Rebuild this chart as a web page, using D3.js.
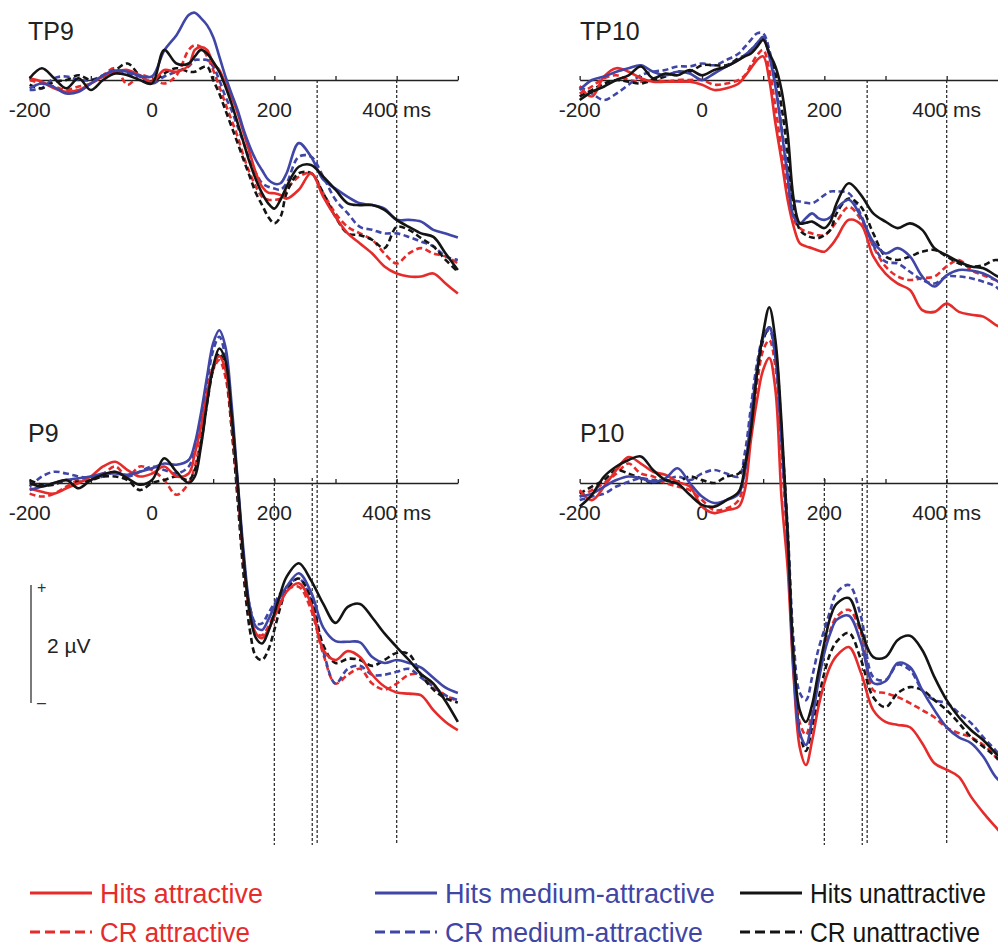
<!DOCTYPE html>
<html><head><meta charset="utf-8">
<script src="https://cdn.jsdelivr.net/npm/d3@7"></script>
<style>
body{margin:0;background:#fff}
svg{display:block}
text{font-family:"Liberation Sans",Arial,Helvetica,sans-serif}
</style>
</head><body>
<svg id="chart" width="998" height="949"></svg>
<script>
// ---- data (µV) ----
const times = [-200,-180,-160,-140,-120,-100,-80,-60,-40,-20,0,20,40,60,70,80,90,100,110,120,130,140,150,160,170,180,190,200,210,220,240,260,280,300,320,340,360,380,400,420,440,460,480,500];

const tp9HitsAttractive = [0.03,-0.03,-0.14,-0.20,-0.17,-0.06,0.06,0.14,0.17,0.08,-0.03,0.17,0.14,0.25,0.51,0.56,0.51,0.28,0.17,-0.06,-0.28,-0.56,-0.90,-1.24,-1.58,-1.81,-1.91,-1.92,-1.95,-2.01,-1.86,-1.58,-1.98,-2.32,-2.60,-2.77,-2.94,-3.16,-3.28,-3.33,-3.33,-3.28,-3.45,-3.62];
const tp9CrAttractive = [0,-0.06,-0.11,-0.17,-0.11,-0.06,0.08,0.20,-0.08,0.08,0.03,-0.06,0.08,0.51,0.59,0.56,0.40,0.17,-0.11,-0.40,-0.68,-0.96,-1.30,-1.58,-1.81,-1.98,-2.03,-2.03,-2.01,-1.86,-1.64,-1.58,-1.92,-2.26,-2.49,-2.60,-2.71,-2.94,-3.11,-2.94,-2.85,-2.94,-2.99,-3.11];
const tp9HitsMedium = [-0.14,-0.06,-0.12,-0.23,-0.20,-0.06,0.08,0.16,0.14,0.07,0.06,0.50,0.76,1.10,1.14,1.05,0.93,0.73,0.40,0.06,-0.23,-0.51,-0.85,-1.13,-1.36,-1.53,-1.69,-1.76,-1.75,-1.58,-1.07,-1.30,-1.69,-1.84,-1.98,-2.09,-2.12,-2.18,-2.37,-2.37,-2.40,-2.54,-2.60,-2.67];
const tp9CrMedium = [-0.17,-0.14,0.03,0.06,0,0,0.08,0.17,0.11,0.06,-0.06,0.06,0.14,0.23,0.34,0.34,0.34,0.23,0,-0.28,-0.51,-0.79,-1.07,-1.36,-1.58,-1.75,-1.81,-1.84,-1.86,-1.75,-1.30,-1.30,-1.64,-2.03,-2.26,-2.49,-2.54,-2.60,-2.60,-2.66,-2.74,-2.82,-2.99,-3.05];
const tp9HitsUnattractive = [0.03,0.20,0.03,-0.14,0.03,-0.17,0,0.11,0.08,0,-0.06,0.51,0.28,0.28,0.40,0.51,0.45,0.31,0.14,-0.11,-0.40,-0.73,-1.07,-1.41,-1.69,-1.92,-2.09,-2.18,-2.03,-1.81,-1.47,-1.44,-1.64,-1.86,-2.09,-2.12,-2.12,-2.20,-2.37,-2.49,-2.60,-2.66,-2.94,-3.22];
const tp9CrUnattractive = [-0.08,-0.14,-0.03,0,0.08,0,0.06,0.17,0.28,0.08,-0.03,0.11,0.20,0.14,0.14,0.20,0.23,0,-0.23,-0.51,-0.79,-1.07,-1.36,-1.64,-1.92,-2.12,-2.32,-2.43,-2.32,-1.92,-1.58,-1.58,-1.92,-2.32,-2.60,-2.63,-2.71,-2.85,-2.49,-2.54,-2.68,-2.82,-3.05,-3.25];

const tp10HitsAttractive = [-0.11,-0.28,0.06,0.20,0.14,0.03,-0.03,-0.03,-0.03,-0.03,-0.08,-0.17,-0.14,-0.06,0.06,0.20,0.34,0.40,0,-0.73,-1.36,-2.03,-2.49,-2.77,-2.82,-2.85,-2.89,-2.91,-2.82,-2.68,-2.37,-2.45,-2.99,-3.28,-3.45,-3.56,-3.90,-3.93,-3.79,-3.93,-3.98,-4.01,-4.15,-4.24];
const tp10CrAttractive = [-0.23,-0.11,0.03,0.08,0,-0.03,0,-0.03,0,0,0,-0.08,-0.06,0,0.08,0.25,0.42,0.51,0.17,-0.45,-1.19,-1.86,-2.37,-2.51,-2.57,-2.60,-2.63,-2.63,-2.54,-2.40,-2.15,-2.37,-2.82,-3.16,-3.33,-3.39,-3.36,-3.33,-3.16,-3.05,-3.22,-3.31,-3.39,-3.45];
const tp10HitsMedium = [-0.17,0,0.06,0.14,0.20,0.25,0.14,0.08,0.14,0.11,0,0.11,0.23,0.34,0.42,0.51,0.62,0.73,0.40,-0.11,-0.85,-1.64,-2.32,-2.43,-2.34,-2.26,-2.34,-2.37,-2.32,-2.18,-2.03,-2.32,-2.74,-2.94,-2.85,-2.99,-3.33,-3.50,-3.31,-3.22,-3.23,-3.28,-3.39,-3.56];
const tp10CrMedium = [-0.11,-0.23,-0.34,-0.23,-0.08,0.08,0.14,0.17,0.23,0.23,0.28,0.25,0.34,0.45,0.56,0.68,0.79,0.79,0.51,-0.06,-0.79,-1.53,-2.03,-2.06,-2.08,-2.09,-2.03,-1.95,-1.89,-1.89,-1.92,-2.29,-2.80,-3.08,-3.11,-3.25,-3.39,-3.45,-3.33,-3.33,-3.36,-3.42,-3.50,-3.73];
const tp10HitsUnattractive = [-0.34,-0.20,-0.11,0,0.08,0.23,0.03,0.11,0.08,0.17,0.08,0.17,0.23,0.34,0.40,0.45,0.56,0.68,0.45,0.23,-0.17,-0.90,-2.03,-2.43,-2.42,-2.40,-2.46,-2.51,-2.40,-2.09,-1.75,-1.95,-2.26,-2.40,-2.51,-2.43,-2.54,-2.85,-2.97,-3.08,-3.16,-3.19,-3.31,-3.42];
const tp10CrUnattractive = [-0.28,-0.17,-0.06,0,-0.03,-0.06,0,0.06,0.14,0.14,0.25,0.25,0.25,0.37,0.42,0.51,0.62,0.71,0.45,0.11,-0.45,-1.24,-2.15,-2.54,-2.63,-2.67,-2.68,-2.63,-2.54,-2.26,-2.01,-2.15,-2.60,-2.99,-3.05,-2.99,-2.91,-2.88,-2.99,-3.11,-3.16,-3.14,-3.05,-3.11];

const p9HitsAttractive = [-0.09,-0.15,-0.18,-0.09,0,0.11,0.28,0.36,0.22,0.11,0.16,0.28,0.11,0.16,0.50,0.95,1.52,1.97,2.15,1.92,1.07,-0.06,-1.31,-2.21,-2.55,-2.63,-2.49,-2.27,-2.04,-1.84,-1.70,-2.05,-2.83,-3.00,-2.85,-2.95,-3.25,-3.45,-3.55,-3.57,-3.60,-3.85,-4.05,-4.19];
const p9CrAttractive = [-0.18,-0.23,-0.18,-0.06,0.05,0.11,0.16,0.28,0.11,0.28,0.22,0.05,-0.20,0,0.28,0.79,1.41,1.92,2.08,1.80,0.95,-0.18,-1.42,-2.27,-2.55,-2.58,-2.44,-2.21,-1.98,-1.81,-1.76,-2.15,-2.90,-3.40,-3.25,-3.15,-3.40,-3.50,-3.40,-3.25,-3.25,-3.45,-3.60,-3.70];
const p9HitsMedium = [-0.12,-0.06,0,0.05,0.08,0.11,0.16,0.16,0.14,0.19,0.25,0.33,0.31,0.39,0.67,1.18,1.80,2.37,2.59,2.31,1.35,0.05,-1.19,-2.10,-2.44,-2.49,-2.32,-2.10,-1.93,-1.76,-1.53,-1.85,-2.45,-2.68,-2.69,-2.70,-2.95,-3.05,-3.00,-3.05,-3.13,-3.30,-3.47,-3.56];
const p9CrMedium = [-0.06,0.11,0.19,0.16,0.11,0.08,0.11,0.19,0.11,0.19,0.28,0.22,0.16,0.28,0.56,1.07,1.69,2.25,2.48,2.14,1.18,-0.06,-1.31,-2.10,-2.38,-2.38,-2.21,-2.04,-1.87,-1.76,-1.62,-1.98,-2.85,-3.40,-3.15,-3.10,-3.25,-3.25,-3.20,-3.15,-3.30,-3.45,-3.60,-3.68];
const p9HitsUnattractive = [0,-0.06,0,0.05,-0.09,0.05,0.14,0.19,0.08,-0.03,0.05,0.42,0.19,0,0.11,0.62,1.35,1.97,2.28,2.08,1.18,0,-1.31,-2.21,-2.63,-2.72,-2.52,-2.21,-1.87,-1.59,-1.36,-1.65,-2.05,-2.37,-2.10,-2.05,-2.28,-2.55,-2.78,-3.00,-3.24,-3.40,-3.70,-4.05];
const p9CrUnattractive = [0.05,-0.03,-0.03,0.05,0.02,0.05,0.11,0.11,0.05,-0.12,0,0.05,0.11,0.05,0.22,0.67,1.35,1.92,2.20,1.92,0.95,-0.29,-1.59,-2.49,-2.94,-3.00,-2.83,-2.49,-2.10,-1.81,-1.62,-1.95,-2.75,-3.05,-2.98,-3.00,-3.10,-3.00,-2.88,-2.90,-3.25,-3.50,-3.65,-3.72];

const p10HitsAttractive = [-0.12,-0.29,-0.06,0.22,0.44,0.33,0.19,0.14,0.02,-0.06,-0.40,-0.51,-0.46,-0.40,-0.12,0.73,1.41,1.92,2.12,1.58,-0.25,-1.44,-3.31,-4.49,-4.78,-4.37,-3.81,-3.39,-3.10,-2.93,-2.78,-3.22,-3.85,-4.05,-4.10,-4.14,-4.41,-4.75,-4.86,-4.98,-5.32,-5.59,-5.83,-6.07];
const p10CrAttractive = [-0.23,-0.12,0,0.16,0.33,0.16,0.11,0,-0.06,-0.12,-0.29,-0.46,-0.43,-0.29,0.17,0.90,1.69,2.25,2.42,1.97,0.51,-1.10,-3.14,-4.07,-4.27,-3.85,-3.29,-2.83,-2.49,-2.27,-2.15,-2.54,-3.51,-3.56,-3.63,-3.73,-3.85,-3.97,-4.15,-4.24,-4.31,-4.44,-4.64,-4.92];
const p10HitsMedium = [-0.23,-0.18,-0.06,0.05,0.11,0.08,0.02,0.08,0.25,0,-0.23,-0.34,-0.29,-0.18,0.20,1.12,1.92,2.47,2.64,2.14,0.73,-0.93,-3.22,-4.24,-4.44,-4.00,-3.39,-2.88,-2.54,-2.32,-2.25,-2.71,-3.39,-3.36,-3.05,-3.12,-3.51,-3.85,-4.14,-4.31,-4.41,-4.64,-4.98,-5.17];
const p10CrMedium = [-0.29,-0.23,-0.18,-0.06,0.02,0.08,0.05,0.05,0.11,0.05,0.16,0.22,0.16,0.11,0.51,1.29,2.03,2.47,2.59,2.14,0.78,-0.76,-2.71,-3.56,-3.68,-3.29,-2.83,-2.49,-2.15,-1.86,-1.73,-2.27,-3.29,-3.34,-3.08,-3.17,-3.51,-3.68,-3.73,-3.90,-4.07,-4.31,-4.53,-4.75];
const p10HitsUnattractive = [-0.40,-0.20,0.11,0.28,0.39,0.45,0.22,0.05,-0.01,-0.20,-0.37,-0.40,-0.29,-0.15,0.27,0.90,1.86,2.54,2.98,2.42,1.02,-0.85,-2.97,-3.86,-4.05,-3.76,-3.22,-2.71,-2.27,-2.05,-1.95,-2.49,-2.95,-2.95,-2.66,-2.59,-2.83,-3.29,-3.68,-3.97,-4.19,-4.36,-4.58,-4.75];
const p10CrUnattractive = [-0.18,-0.06,0.05,0.22,0.16,0.08,0,0.05,0.02,0.11,0.05,0,0.11,0.16,0.34,1.02,1.86,2.42,2.64,2.25,0.85,-0.85,-3.05,-4.24,-4.54,-4.14,-3.68,-3.22,-2.88,-2.69,-2.54,-3.00,-3.63,-3.80,-3.56,-3.46,-3.51,-3.68,-3.85,-4.07,-4.31,-4.47,-4.64,-4.83];

const seriesNames = ["Hits attractive","CR attractive","Hits medium-attractive","CR medium-attractive","Hits unattractive","CR unattractive"];
const seriesColors = ["#e62b2b","#e62b2b","#3f46a6","#3f46a6","#141414","#141414"];
const seriesDashed = [false,true,false,true,false,true];
const panelNames = ["TP9","TP10","P9","P10"];
const tickValues = [-200,-100,0,100,200,300,400,500];
const tickLabels = ["-200","0","200","400 ms"];
const tickLabelTimes = [-200,0,200,400];
const markerTimesLong = [270,400];
const markerTimesShort = [200,262];
const scaleBarLabel = "2 µV";

const panelData = [
  [tp9HitsAttractive,tp9CrAttractive,tp9HitsMedium,tp9CrMedium,tp9HitsUnattractive,tp9CrUnattractive],
  [tp10HitsAttractive,tp10CrAttractive,tp10HitsMedium,tp10CrMedium,tp10HitsUnattractive,tp10CrUnattractive],
  [p9HitsAttractive,p9CrAttractive,p9HitsMedium,p9CrMedium,p9HitsUnattractive,p9CrUnattractive],
  [p10HitsAttractive,p10CrAttractive,p10HitsMedium,p10CrMedium,p10HitsUnattractive,p10CrUnattractive]
];

// ---- layout ----
const svg = d3.select("#chart");
svg.append("rect").attr("width",998).attr("height",949).attr("fill","#fff");
const pxPerMs = 0.6117, pxPerUv = 59;
const colZero = [152, 702];
const rowAxis = [80, 483];
const xScales = colZero.map(z => d3.scaleLinear().domain([-200,500]).range([z-200*pxPerMs, z+500*pxPerMs]));
const yScales = rowAxis.map(a => d3.scaleLinear().domain([0,1]).range([a, a-pxPerUv]));
const bottomY = 845;

// marker dashed verticals
xScales.forEach(x => {
  markerTimesLong.forEach(t => {
    svg.append("line").attr("x1",x(t)).attr("x2",x(t)).attr("y1",rowAxis[0]).attr("y2",bottomY)
      .attr("stroke","#333").attr("stroke-width",1.3).attr("stroke-dasharray","3,2");
  });
  markerTimesShort.forEach(t => {
    svg.append("line").attr("x1",x(t)).attr("x2",x(t)).attr("y1",rowAxis[1]-5).attr("y2",bottomY)
      .attr("stroke","#333").attr("stroke-width",1.3).attr("stroke-dasharray","3,2");
  });
});

panelNames.forEach((name, i) => {
  const col = i % 2, row = Math.floor(i / 2);
  const x = xScales[col], y = yScales[row];
  const g = svg.append("g");
  const ax = d3.axisTop(x).tickValues(tickValues).tickSize(4).tickSizeOuter(0).tickFormat("");
  const axg = g.append("g").attr("transform",`translate(0,${rowAxis[row]})`).call(ax);
  axg.select(".domain").attr("stroke","#222").attr("stroke-width",1.3);
  axg.selectAll(".tick line").attr("stroke","#222").attr("stroke-width",1.3);
  tickLabelTimes.forEach((t, k) => {
    g.append("text").attr("x",x(t)).attr("y",rowAxis[row]+37).attr("text-anchor","middle")
      .attr("font-size",21).attr("fill","#222").text(tickLabels[k]);
  });
  g.append("text").attr("x",col===0?28:580).attr("y",row===0?40:442)
    .attr("font-size",25).attr("fill","#222").text(name);
  const line = d3.line().x((d,k)=>x(times[k])).y(d=>y(d)).curve(d3.curveCatmullRom.alpha(0.5));
  const order = [1,3,5,0,2,4];
  order.forEach(s => {
    g.append("path").attr("d",line(panelData[i][s])).attr("fill","none")
      .attr("stroke",seriesColors[s]).attr("stroke-width",2.6)
      .attr("stroke-linejoin","round")
      .attr("stroke-dasharray",seriesDashed[s]?"6,3.5":null);
  });
});

// scale bar
const sb = svg.append("g");
const sbY = d3.scaleLinear().domain([1,-1]).range([585,585+2*pxPerUv]);
sb.append("line").attr("x1",31).attr("x2",31).attr("y1",sbY(1)).attr("y2",sbY(-1)).attr("stroke","#333").attr("stroke-width",1.3);
sb.append("text").attr("x",37).attr("y",sbY(1)+8).attr("font-size",16).attr("fill","#333").text("+");
sb.append("text").attr("x",37).attr("y",sbY(-1)+5).attr("font-size",16).attr("fill","#333").text("–");
sb.append("text").attr("x",47).attr("y",653).attr("font-size",21).attr("fill","#222").text(scaleBarLabel);

// legend (condensed glyphs via horizontal scale)
const legCols = [30, 375, 740];
const legRows = [893, 932];
const legTextWidths = [163, 150, 270, 258, 176, 170];
seriesNames.forEach((n, s) => {
  const c = Math.floor(s/2), r = s % 2;
  const lx = legCols[c], ly = legRows[r];
  svg.append("line").attr("x1",lx).attr("x2",lx+62).attr("y1",ly).attr("y2",ly)
    .attr("stroke",seriesColors[s]).attr("stroke-width",3)
    .attr("stroke-dasharray",seriesDashed[s]?"10,5":null);
  const t = svg.append("text").attr("x",0).attr("y",0).attr("font-size",28)
    .attr("fill",seriesColors[s]).text(n);
  const w = t.node().getComputedTextLength();
  const k = legTextWidths[s] / w;
  t.attr("transform",`translate(${lx+70},${ly+10}) scale(${k},1)`);
});
</script>
</body></html>
